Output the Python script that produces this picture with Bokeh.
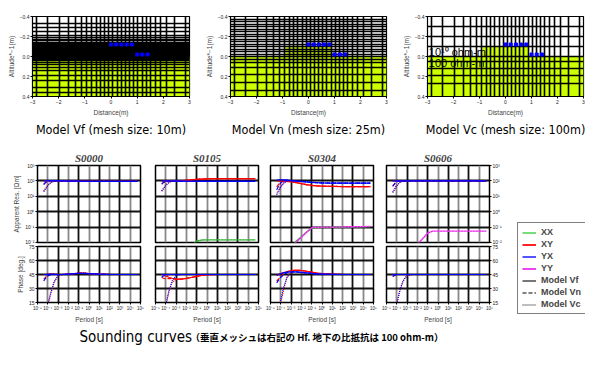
from bokeh.plotting import figure
from bokeh.layouts import row, column
from bokeh.models import Range1d, FixedTicker, Title, Label, Legend, LegendItem, Grid
from bokeh.embed import file_html
from bokeh.resources import INLINE

NARROW = "'Liberation Sans Narrow', 'DejaVu Sans Condensed', sans-serif"
SANS = "Liberation Sans"
LIME = "#ccff00"

# ---------------- mesh model data ----------------
X_TICKS = [-3, -2, -1, 0, 1, 2, 3]
X_TICK_LABELS = ["−3", "−2", "−1", "0", "1", "2", "3"]
Z_TICKS = [-0.4, -0.2, 0.0, 0.2, 0.4]
Z_TICK_LABELS = ["−0.4", "−0.2", "0.0", "0.2", "0.4"]

MESH_X = [-2.84, -2.43, -1.98, -1.62, -1.34, -1.11, -0.92, -0.74, -0.57, -0.41, -0.25,
          -0.09, 0.07, 0.23, 0.39, 0.55, 0.71, 0.87, 1.03, 1.19, 1.35, 1.51, 1.69, 1.88,
          2.11, 2.43, 2.84]
MESH_Z_VF = [-0.333, -0.29, -0.247, -0.213, -0.19, -0.173, -0.157, -0.14, 0.027, 0.043,
             0.06, 0.083, 0.11, 0.143, 0.193, 0.243, 0.31, 0.36]
MESH_Z_VF_FINE = [-0.13, -0.12, -0.11, -0.10, -0.09, -0.08, -0.07, -0.06, -0.05, -0.04,
                  -0.03, -0.02, -0.01, 0.0, 0.01]
MESH_Z_VN = [-0.375, -0.35, -0.325, -0.3, -0.275, -0.25, -0.225, -0.2, -0.175, -0.15,
             -0.125, -0.1, -0.075, -0.05, -0.025, 0.0, 0.027, 0.06, 0.11, 0.177, 0.26, 0.343]
MESH_Z_VC = [-0.3, -0.2, -0.1, 0.0, 0.047, 0.12, 0.19, 0.27]

GROUND_LEFT = [-3.0, -0.88]
GROUND_RIGHT = [3.0, 0.90]
GROUND_TOP = [0.0, -0.1]
GROUND_BOTTOM = [0.4, 0.0]

STATION_X = [0.0, 0.2, 0.4, 0.6, 0.8, 1.0, 1.2, 1.4]
STATION_Z = [-0.12, -0.12, -0.12, -0.12, -0.12, -0.02, -0.02, -0.02]

# ---------------- sounding data ----------------
PERIOD = [4e-5, 6e-5, 1e-4, 2e-4, 4e-4, 1e-3, 3e-3, 1e-2, 3e-2, 0.1, 0.3, 1.0, 10.0,
          100.0, 1e3, 1e4, 5e4]
PERIOD_TICKS = [1e-5, 1e-4, 1e-3, 1e-2, 1e-1, 1.0, 10.0, 100.0, 1e3, 1e4, 1e5]
PERIOD_LABELS = ["10⁻⁵", "10⁻⁴", "10⁻³", "10⁻²", "10⁻¹", "10⁰", "10¹", "10²", "10³", "10⁴", "10⁵"]
RHO_TICKS = [1e-2, 1e-1, 1.0, 10.0, 100.0, 1e3]
RHO_LABELS = ["10⁻²", "10⁻¹", "10⁰", "10¹", "10²", "10³"]
PHASE_TICKS = [15, 30, 45, 60, 75]
PHASE_LABELS = ["15", "30", "45", "60", "75"]

STATIONS = ["S0000", "S0105", "S0304", "S0606"]
MODELS = ["Vf", "Vn", "Vc"]
MODEL_LABELS = ["Model Vf", "Model Vn", "Model Vc"]
MODEL_DASHES = ["solid", "4 2", "1 1"]
COMPONENTS = ["XX", "XY", "YX", "YY"]
COMPONENT_COLORS = ["#22aa22", "#ff0000", "#0000ff", "#ee22ee"]
LEGEND_COLORS = ["#77dd77", "#ff2222", "#5555ff", "#ee44ee"]

s0000_rho_xy = {"Vf": [100, 102, 104, 104, 102, 100, 99, 98, 97, 96, 95, 94, 94, 94, 94, 94, 94],
                "Vn": [62, 80, 96, 103, 102, 100, 99, 98, 97, 96, 95, 94, 94, 94, 94, 94, 94],
                "Vc": [22, 32, 52, 80, 96, 100, 99, 98, 97, 96, 95, 94, 94, 94, 94, 94, 94]}
s0000_rho_yx = {"Vf": [100, 101, 103, 103, 101, 100, 99, 98, 97, 96, 95, 94, 94, 94, 94, 94, 94],
                "Vn": [58, 78, 95, 102, 101, 100, 99, 98, 97, 96, 95, 94, 94, 94, 94, 94, 94],
                "Vc": [20, 30, 50, 78, 95, 100, 99, 98, 97, 96, 95, 94, 94, 94, 94, 94, 94]}
s0000_ph_xy = {"Vf": [45, 45, 45.3, 45.5, 45.3, 45, 45, 45.3, 45.8, 46.5, 46.5, 46, 45.3, 45, 45, 45, 45],
               "Vn": [40, 42, 44, 45, 45.3, 45, 45, 45.3, 45.8, 46.5, 46.5, 46, 45.3, 45, 45, 45, 45],
               "Vc": [-10, 0, 12, 25, 36, 44, 45, 45.3, 45.8, 46.5, 46.5, 46, 45.3, 45, 45, 45, 45]}
s0000_ph_yx = {"Vf": [45, 45, 45.2, 45.4, 45.2, 45, 45, 45.3, 45.8, 46.3, 46.3, 45.9, 45.3, 45, 45, 45, 45],
               "Vn": [38, 41, 43.5, 45, 45.2, 45, 45, 45.3, 45.8, 46.3, 46.3, 45.9, 45.3, 45, 45, 45, 45],
               "Vc": [-8, 2, 13, 26, 37, 44, 45, 45.3, 45.8, 46.3, 46.3, 45.9, 45.3, 45, 45, 45, 45]}

s0105_rho_xy = {"Vf": [100, 100, 100, 100, 100, 101, 104, 110, 118, 126, 132, 137, 140, 141, 141, 141, 141],
                "Vn": [62, 80, 96, 102, 101, 101, 104, 110, 118, 126, 132, 137, 140, 141, 141, 141, 141],
                "Vc": [22, 32, 52, 80, 96, 101, 104, 110, 118, 126, 132, 137, 140, 141, 141, 141, 141]}
s0105_rho_yx = {"Vf": [100, 100, 100, 99, 98, 97, 96, 95, 95, 94, 94, 94, 94, 94, 94, 94, 94],
                "Vn": [62, 80, 95, 100, 99, 97, 96, 95, 95, 94, 94, 94, 94, 94, 94, 94, 94],
                "Vc": [22, 32, 52, 80, 95, 97, 96, 95, 95, 94, 94, 94, 94, 94, 94, 94, 94]}
s0105_rho_xx = [1e-4, 1e-4, 1e-4, 1e-4, 1e-4, 2e-4, 6e-4, 2e-3, 6e-3, 0.0125, 0.0145, 0.015,
                0.015, 0.015, 0.015, 0.015, 0.015]
s0105_ph_xy = {"Vf": [45, 44.5, 43.5, 42, 41, 40, 40, 40.8, 41.8, 43, 44.2, 44.8, 45, 45, 45, 45, 45],
               "Vn": [42, 41, 40.5, 40.5, 40.5, 40, 40, 40.8, 41.8, 43, 44.2, 44.8, 45, 45, 45, 45, 45],
               "Vc": [-10, 0, 12, 27, 36, 40, 40, 40.8, 41.8, 43, 44.2, 44.8, 45, 45, 45, 45, 45]}
s0105_ph_yx = {"Vf": [45, 45, 45, 45, 45, 45, 45, 45, 45, 45, 45, 45, 45, 45, 45, 45, 45],
               "Vn": [42, 43.5, 44.5, 45, 45, 45, 45, 45, 45, 45, 45, 45, 45, 45, 45, 45, 45],
               "Vc": [-10, 0, 12, 27, 38, 44, 45, 45, 45, 45, 45, 45, 45, 45, 45, 45, 45]}

s0304_rho_xy = {"Vf": [100, 100, 99, 97, 94, 88, 78, 66, 57, 51, 48, 46, 44, 43, 42, 42, 42],
                "Vn": [40, 60, 85, 95, 93, 88, 78, 66, 57, 51, 48, 46, 44, 43, 42, 42, 42],
                "Vc": [15, 25, 45, 75, 90, 88, 78, 66, 57, 51, 48, 46, 44, 43, 42, 42, 42]}
s0304_rho_yx = {"Vf": [112, 116, 118, 116, 111, 104, 98, 92, 86, 81, 77, 74, 72, 71, 71, 71, 71],
                "Vn": [27, 45, 75, 105, 110, 104, 98, 92, 86, 81, 77, 74, 72, 71, 71, 71, 71],
                "Vc": [12, 20, 40, 75, 100, 104, 98, 92, 86, 81, 77, 74, 72, 71, 71, 71, 71]}
s0304_rho_xx = [1e-4, 1e-4, 1e-4, 2e-4, 5e-4, 0.005, 0.012, 0.024, 0.046, 0.085, 0.097, 0.1,
                0.1, 0.101, 0.103, 0.105, 0.107]
s0304_rho_yy = [1e-4, 1e-4, 1e-4, 1e-4, 2e-4, 0.004, 0.0105, 0.022, 0.045, 0.09, 0.1, 0.1,
                0.1, 0.102, 0.105, 0.108, 0.11]
s0304_ph_xy = {"Vf": [44, 45, 46, 47, 48, 49.2, 49.6, 49.3, 48.5, 47.5, 46.5, 46, 45.3, 45, 45, 45, 45],
               "Vn": [38, 40, 43, 46, 47.5, 49.2, 49.6, 49.3, 48.5, 47.5, 46.5, 46, 45.3, 45, 45, 45, 45],
               "Vc": [-5, 5, 15, 30, 42, 48, 49.6, 49.3, 48.5, 47.5, 46.5, 46, 45.3, 45, 45, 45, 45]}
s0304_ph_yx = {"Vf": [44, 45, 46, 47, 47.5, 47.9, 47.8, 47.3, 46.8, 46.2, 45.7, 45.4, 45.1, 45, 45, 45, 45],
               "Vn": [36, 39, 42, 45, 47, 47.9, 47.8, 47.3, 46.8, 46.2, 45.7, 45.4, 45.1, 45, 45, 45, 45],
               "Vc": [0, 8, 18, 32, 42, 47, 47.8, 47.3, 46.8, 46.2, 45.7, 45.4, 45.1, 45, 45, 45, 45]}

s0606_rho_xy = {"Vf": [100, 100, 100, 100, 100, 100, 100, 100, 100, 100, 100, 100, 100, 100, 100, 100, 100],
                "Vn": [45, 65, 90, 100, 100, 100, 100, 100, 100, 100, 100, 100, 100, 100, 100, 100, 100],
                "Vc": [18, 28, 50, 80, 96, 100, 100, 100, 100, 100, 100, 100, 100, 100, 100, 100, 100]}
s0606_rho_yx = {"Vf": [100, 100, 100, 100, 100, 100, 100, 100, 100, 100, 100, 100, 100, 100, 100, 100, 100],
                "Vn": [45, 65, 90, 100, 100, 100, 100, 100, 100, 100, 100, 100, 100, 100, 100, 100, 100],
                "Vc": [18, 28, 50, 80, 96, 100, 100, 100, 100, 100, 100, 100, 100, 100, 100, 100, 100]}
s0606_rho_yy = [1e-4, 1e-4, 1e-4, 1e-4, 1e-4, 1e-4, 1e-3, 0.0075, 0.017, 0.041, 0.054, 0.055,
                0.055, 0.055, 0.055, 0.055, 0.055]
s0606_ph_xy = {"Vf": [45, 45, 45, 45, 45, 45, 45, 45, 45, 45, 45, 45, 45, 45, 45, 45, 45],
               "Vn": [43, 44, 45, 45, 45, 45, 45, 45, 45, 45, 45, 45, 45, 45, 45, 45, 45],
               "Vc": [-5, 2, 14, 28, 38, 44, 45, 45, 45, 45, 45, 45, 45, 45, 45, 45, 45]}
s0606_ph_yx = {"Vf": [45, 45, 45, 45, 45, 45, 45, 45, 45, 45, 45, 45, 45, 45, 45, 45, 45],
               "Vn": [43, 44, 45, 45, 45, 45, 45, 45, 45, 45, 45, 45, 45, 45, 45, 45, 45],
               "Vc": [-5, 2, 14, 28, 38, 44, 45, 45, 45, 45, 45, 45, 45, 45, 45, 45, 45]}

RHO_OFFDIAG = {"S0000": (s0000_rho_xy, s0000_rho_yx), "S0105": (s0105_rho_xy, s0105_rho_yx),
               "S0304": (s0304_rho_xy, s0304_rho_yx), "S0606": (s0606_rho_xy, s0606_rho_yx)}
PH_OFFDIAG = {"S0000": (s0000_ph_xy, s0000_ph_yx), "S0105": (s0105_ph_xy, s0105_ph_yx),
              "S0304": (s0304_ph_xy, s0304_ph_yx), "S0606": (s0606_ph_xy, s0606_ph_yx)}
RHO_DIAG = {"S0000": {}, "S0105": {"XX": s0105_rho_xx},
            "S0304": {"XX": s0304_rho_xx, "YY": s0304_rho_yy}, "S0606": {"YY": s0606_rho_yy}}


def style_axis(ax, size="5px"):
    ax.major_label_text_font_size = size
    ax.major_label_text_font = SANS
    ax.major_label_text_color = "#222222"
    ax.major_tick_out = 2
    ax.major_tick_in = 0
    ax.minor_tick_out = 0
    ax.minor_tick_in = 0
    ax.major_label_standoff = 1
    ax.axis_label_standoff = 2
    ax.axis_label_text_font_size = "6.5px"
    ax.axis_label_text_font_style = "normal"
    ax.axis_label_text_font = SANS
    ax.axis_line_color = "black"


def mesh_fig(title, mesh_z, fine_z, frame_w, left, right):
    p = figure(frame_width=frame_w, frame_height=80, x_range=Range1d(-3, 3),
               y_range=Range1d(0.4, -0.4), min_border_left=left, min_border_right=right,
               min_border_top=16, min_border_bottom=44, output_backend="svg",
               toolbar_location=None)
    p.grid.visible = False
    p.outline_line_color = "black"
    p.outline_line_width = 1.2
    p.quad(left=GROUND_LEFT, right=GROUND_RIGHT, top=GROUND_TOP, bottom=GROUND_BOTTOM,
           fill_color=LIME, line_color=None)
    p.vspan(x=MESH_X, line_color="black", line_width=1.6)
    p.hspan(y=mesh_z, line_color="black", line_width=1.4)
    if fine_z:
        p.hspan(y=fine_z, line_color="black", line_width=3)
    p.scatter(STATION_X, STATION_Z, marker="square", size=3, color="#0000ff")
    p.xaxis.ticker = FixedTicker(ticks=X_TICKS)
    p.xaxis.major_label_overrides = dict(zip(X_TICKS, X_TICK_LABELS))
    p.yaxis.ticker = FixedTicker(ticks=Z_TICKS)
    p.yaxis.major_label_overrides = dict(zip(Z_TICKS, Z_TICK_LABELS))
    style_axis(p.xaxis[0])
    style_axis(p.yaxis[0])
    p.xaxis.axis_label = "Distance(m)"
    p.yaxis.axis_label = "Altitude*−1(m)"
    p.add_layout(Title(text=title, align="center", text_font_size="12.5px",
                       text_font=NARROW, text_font_style="normal", text_color="black",
                       standoff=3), "below")
    return p


f1 = mesh_fig("Model Vf (mesh size: 10m)", MESH_Z_VF, MESH_Z_VF_FINE, 157, 32, 3)
f2 = mesh_fig("Model Vn (mesh size: 25m)", MESH_Z_VN, None, 156, 38, 6)
f3 = mesh_fig("Model Vc (mesh size: 100m)", MESH_Z_VC, None, 156, 35, 2)
f3.add_layout(Label(x=-2.95, y=-0.05, text="10¹⁰ ohm-m", text_font_size="11px",
                    text_baseline="middle", text_font=SANS, text_color="black"))
f3.add_layout(Label(x=-2.95, y=0.06, text="100 ohm-m", text_font_size="11px",
                    text_baseline="middle", text_font=SANS, text_color="black"))


def add_grids(p, yticks):
    p.xgrid.ticker = FixedTicker(ticks=[1e-4, 1e-2, 1.0, 100.0, 1e4])
    p.xgrid.grid_line_color = "#888888"
    p.xgrid.grid_line_width = 1.8
    p.add_layout(Grid(dimension=0, ticker=FixedTicker(ticks=[1e-3, 1e-1, 10.0, 1e3]),
                      grid_line_color="#111111", grid_line_width=1.8))
    p.ygrid.ticker = FixedTicker(ticks=yticks)
    p.ygrid.grid_line_color = "#111111"
    p.ygrid.grid_line_width = 1.8
    p.outline_line_color = "black"
    p.outline_line_width = 1.5


def sounding_panel(name, left, right, yloc):
    common = dict(output_backend="svg", toolbar_location=None, frame_width=103,
                  x_axis_type="log", x_range=Range1d(1e-5, 1e5), min_border_left=left,
                  min_border_right=right, y_axis_location=yloc)
    pr = figure(frame_height=77, y_axis_type="log", y_range=Range1d(1e-2, 1e3),
                min_border_top=25, min_border_bottom=2, **common)
    pp = figure(frame_height=56, y_range=Range1d(15, 75), min_border_top=2,
                min_border_bottom=19, **common)
    pr.title.text = name
    pr.title.text_font = "Liberation Serif"
    pr.title.text_font_style = "bold italic"
    pr.title.text_font_size = "11px"
    pr.title.align = "center"
    pr.title.standoff = 3
    add_grids(pr, RHO_TICKS[1:-1])
    add_grids(pp, PHASE_TICKS[1:-1])
    pr.xaxis.visible = False
    pr.yaxis.ticker = FixedTicker(ticks=RHO_TICKS)
    pr.yaxis.major_label_overrides = dict(zip(RHO_TICKS, RHO_LABELS))
    pp.yaxis.ticker = FixedTicker(ticks=PHASE_TICKS)
    pp.yaxis.major_label_overrides = dict(zip(PHASE_TICKS, PHASE_LABELS))
    pp.xaxis.ticker = FixedTicker(ticks=PERIOD_TICKS)
    pp.xaxis.major_label_overrides = dict(zip(PERIOD_TICKS, PERIOD_LABELS))
    pp.xaxis.axis_label = "Period [s]"
    style_axis(pp.xaxis[0], "4.5px")
    style_axis(pr.yaxis[0])
    style_axis(pp.yaxis[0])
    if yloc == "left":
        pr.yaxis.axis_label = "Apparent Res. [Ωm]"
        pp.yaxis.axis_label = "Phase [deg.]"
    if left < 20 and yloc == "left":
        pr.yaxis.visible = False
        pp.yaxis.visible = False

    # diagonal components
    for comp, col in zip(COMPONENTS, COMPONENT_COLORS):
        if comp in RHO_DIAG[name]:
            pr.line(PERIOD, RHO_DIAG[name][comp], line_color=col, line_width=1.3)
            pr.line(PERIOD, RHO_DIAG[name][comp], line_color="#ffffff", line_width=0.6,
                    line_dash="1 2", line_alpha=0.6)
    # off-diagonal components
    rxy, ryx = RHO_OFFDIAG[name]
    pxy, pyx = PH_OFFDIAG[name]
    for rho, ph, col in ((rxy, pxy, COMPONENT_COLORS[1]), (ryx, pyx, COMPONENT_COLORS[2])):
        for m, dash in zip(MODELS[::-1], MODEL_DASHES[::-1]):
            pr.line(PERIOD, rho[m], line_color=col, line_width=1.2, line_dash=dash)
            pp.line(PERIOD, ph[m], line_color=col, line_width=1.2, line_dash=dash)
    return column(pr, pp)


p1 = sounding_panel("S0000", 37, 7, "left")
p2 = sounding_panel("S0105", 8, 4, "left")
p3 = sounding_panel("S0304", 8, 5, "left")
p4 = sounding_panel("S0606", 8, 22, "right")

# legend figure (sample glyphs sit outside the visible range; only legend swatches show)
LEG_X = [5.0, 6.0]
LEG_Y = [5.0, 6.0]
lf = figure(width=74, height=181, x_range=Range1d(0, 1), y_range=Range1d(0, 1), min_border=0,
            x_axis_location=None, y_axis_location=None, output_backend="svg",
            toolbar_location=None)
lf.outline_line_color = None
lf.grid.visible = False
items = []
for lab, col in zip(COMPONENTS, LEGEND_COLORS):
    r = lf.line(x=LEG_X, y=LEG_Y, line_color=col, line_width=2)
    items.append(LegendItem(label=lab, renderers=[r]))
for lab, dash in zip(MODEL_LABELS, MODEL_DASHES):
    r = lf.line(x=LEG_X, y=LEG_Y, line_color="#555555", line_width=1.6, line_dash=dash)
    items.append(LegendItem(label=lab, renderers=[r]))
leg = Legend(items=items, location=(6, 7), label_text_font_size="9px",
             label_text_font_style="bold", label_text_font=SANS, glyph_width=14,
             glyph_height=9, label_height=9, spacing=2, padding=4, margin=0,
             border_line_color="black", border_line_width=1.2, label_standoff=5,
             background_fill_alpha=1)
lf.add_layout(leg)

# bottom caption
tf = figure(width=585, height=20, x_range=Range1d(0, 1), y_range=Range1d(0, 1), min_border=0,
            x_axis_location=None, y_axis_location=None, output_backend="svg",
            toolbar_location=None)
tf.outline_line_color = None
tf.grid.visible = False
tf.add_layout(Label(x=79, y=9, x_units="screen", y_units="screen", text="Sounding curves",
                    text_font_size="15px", text_font=NARROW, text_baseline="middle",
                    text_color="black"))
tf.add_layout(Label(x=190, y=9, x_units="screen", y_units="screen",
                    text="（垂直メッシュは右記の Hf. 地下の比抵抗は 100 ohm-m）",
                    text_font_size="9.5px", text_font="Noto Sans CJK JP",
                    text_font_style="bold", text_baseline="middle", text_color="black"))

layout = column(row(f1, f2, f3), row(p1, p2, p3, p4, lf), tf)
open("out.html", "w").write(file_html(layout, INLINE))
